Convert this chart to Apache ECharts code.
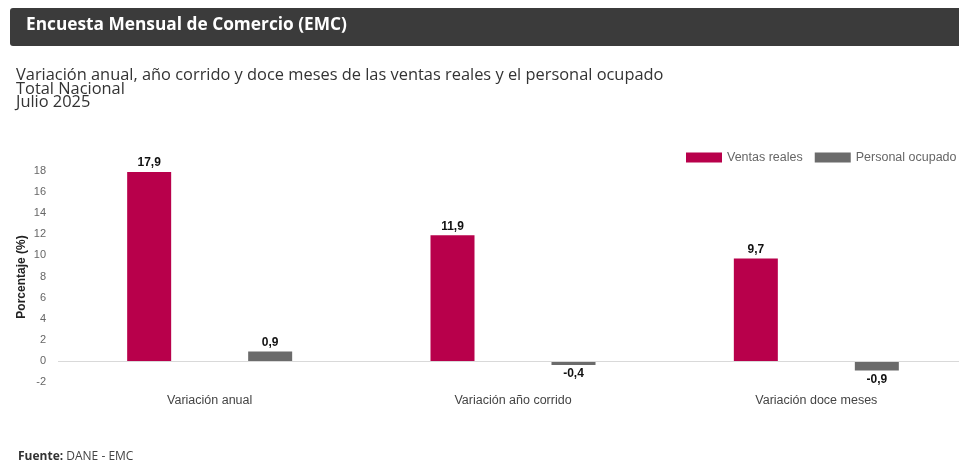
<!DOCTYPE html>
<html>
<head>
<meta charset="utf-8">
<script src="https://cdn.jsdelivr.net/npm/echarts@6/dist/echarts.min.js"></script>
<style>
  html, body { margin: 0; padding: 0; background: #fff; overflow: hidden; }
  #chart { width: 968px; height: 465px; }
</style>
</head>
<body>
<div id="chart"></div>
<script>
const categories = ['Variación anual', 'Variación año corrido', 'Variación doce meses']
const ventasReales = [17.9, 11.9, 9.7]
const personalOcupado = [0.9, -0.4, -0.9]

const chart = echarts.init(document.getElementById('chart'))

// etiqueta arriba si es positivo, abajo si es negativo
function withLabels (values) {
  return values.map(v => ({
    value: v,
    label: { position: v < 0 ? 'bottom' : 'top' }
  }))
}

const labelStyle = {
  show: true,
  color: '#111',
  fontWeight: 'bold',
  fontSize: 12,
  fontFamily: 'Liberation Sans, Arial, sans-serif',
  distance: 3,
  formatter: p => String(p.value).replace('.', ',')
}

const option = {
  animation: false,
  textStyle: { fontFamily: 'Liberation Sans, Arial, sans-serif' },
  graphic: [
    {
      type: 'rect',
      shape: { x: 10, y: 8, width: 970, height: 38, r: [3, 0, 0, 3] },
      style: { fill: '#3b3b3b' }
    },
    {
      type: 'text',
      left: 26,
      top: 17,
      style: {
        text: 'Encuesta Mensual de Comercio (EMC)',
        fill: '#fff',
        font: 'bold 17.3px "Open Sans", sans-serif'
      }
    },
    {
      // titulo del eje y
      type: 'text',
      x: 22,
      y: 277,
      rotation: Math.PI / 2,
      style: {
        text: 'Porcentaje (%)',
        fill: '#222',
        font: 'bold 12px "Liberation Sans", Arial, sans-serif',
        align: 'center',
        verticalAlign: 'middle'
      }
    },
    {
      type: 'text',
      left: 18,
      top: 451,
      style: {
        text: '{b|Fuente:} DANE - EMC',
        fill: '#444',
        font: '12px "Open Sans", sans-serif',
        rich: {
          b: { fontWeight: 'bold', fontSize: 12, fontFamily: 'Open Sans', fill: '#333' }
        }
      }
    }
  ],
  title: {
    text: 'Variación anual, año corrido y doce meses de las ventas reales y el personal ocupado\nTotal Nacional\nJulio 2025',
    left: 11,
    top: 64,
    textStyle: {
      fontFamily: 'Open Sans',
      fontWeight: 'normal',
      fontSize: 16.4,
      lineHeight: 13.5,
      color: '#333'
    }
  },
  legend: {
    left: 681,
    top: 146,
    itemWidth: 36,
    itemHeight: 10,
    itemGap: 12,
    icon: 'rect',
    textStyle: { color: '#666', fontSize: 12.5 },
    data: ['Ventas reales', 'Personal ocupado']
  },
  grid: {
    left: 58,
    right: 0,
    top: 171,
    bottom: 83,
    containLabel: false
  },
  xAxis: {
    type: 'category',
    data: categories,
    axisLine: { show: false, onZero: false },
    axisTick: { show: false },
    axisLabel: { color: '#444', fontSize: 12.5, margin: 12 }
  },
  yAxis: {
    type: 'value',
    min: -2,
    max: 18,
    interval: 2,
    axisLine: { show: false },
    axisTick: { show: false },
    splitLine: { show: false },
    axisLabel: { color: '#666', fontSize: 11, margin: 12 }
  },
  series: [
    {
      name: 'Ventas reales',
      type: 'bar',
      barWidth: 44,
      barGap: '175%',
      itemStyle: { color: '#b8004b' },
      label: labelStyle,
      data: withLabels(ventasReales),
      markLine: {
        silent: true,
        symbol: 'none',
        label: { show: false },
        lineStyle: { color: '#d9d9d9', type: 'solid', width: 1 },
        data: [{ yAxis: 0 }]
      },
      z: 2
    },
    {
      name: 'Personal ocupado',
      type: 'bar',
      barWidth: 44,
      itemStyle: { color: '#6b6b6b' },
      label: labelStyle,
      data: withLabels(personalOcupado),
      z: 2
    }
  ]
}

chart.setOption(option)
</script>
</body>
</html>
